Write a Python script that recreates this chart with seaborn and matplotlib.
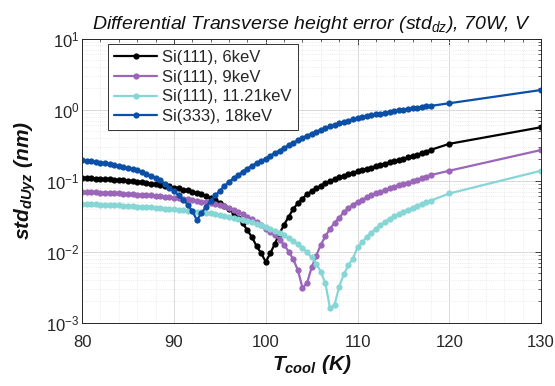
import numpy as np
import pandas as pd
import seaborn as sns
import matplotlib
matplotlib.use("Agg")
import matplotlib.pyplot as plt
from matplotlib.ticker import MultipleLocator, LogLocator, NullFormatter

# ---------------- data ----------------
T = list(np.arange(80.0, 118.01, 0.5)) + [120.0, 130.0]

series_names = ["Si(111), 6keV", "Si(111), 9keV", "Si(111), 11.21keV", "Si(333), 18keV"]

si111_6kev = [
    0.110, 0.109, 0.108, 0.107, 0.106, 0.105, 0.104, 0.103, 0.102, 0.101,
    0.100, 0.098, 0.097, 0.095, 0.093, 0.091, 0.089, 0.087, 0.085, 0.083,
    0.080, 0.078, 0.075, 0.073, 0.070, 0.067, 0.064, 0.060, 0.057, 0.053,
    0.049, 0.044, 0.040, 0.035, 0.030, 0.025, 0.020, 0.016, 0.012, 0.0095,
    0.0072, 0.0095, 0.013, 0.018, 0.024, 0.031, 0.040, 0.048, 0.056, 0.064,
    0.071, 0.078, 0.085, 0.092, 0.099, 0.105, 0.111, 0.117, 0.123, 0.129,
    0.135, 0.141, 0.147, 0.153, 0.160, 0.167, 0.174, 0.181, 0.188, 0.196,
    0.204, 0.212, 0.222, 0.232, 0.243, 0.256, 0.272,
    0.33, 0.565,
]

si111_9kev = [
    0.069, 0.0688, 0.0685, 0.0683, 0.068, 0.0675, 0.067, 0.0665, 0.066, 0.0655,
    0.065, 0.0644, 0.0638, 0.0632, 0.0625, 0.0618, 0.061, 0.0603, 0.0595, 0.0585,
    0.0575, 0.0565, 0.0555, 0.0544, 0.0532, 0.052, 0.0508, 0.0497, 0.0485, 0.047,
    0.0455, 0.0435, 0.041, 0.0385, 0.036, 0.0335, 0.031, 0.0285, 0.026, 0.0235,
    0.021, 0.019, 0.017, 0.0148, 0.0125, 0.010, 0.0078, 0.0055, 0.0031, 0.0036,
    0.0060, 0.0088, 0.0125, 0.0165, 0.021, 0.0255, 0.030, 0.036, 0.041, 0.046,
    0.050, 0.054, 0.058, 0.062, 0.066, 0.070, 0.074, 0.078, 0.082, 0.086,
    0.090, 0.094, 0.098, 0.103, 0.108, 0.114, 0.120,
    0.138, 0.27,
]

si111_11kev = [
    0.047, 0.0468, 0.0465, 0.0463, 0.046, 0.0457, 0.0454, 0.0451, 0.0448, 0.0444,
    0.044, 0.0436, 0.0432, 0.0428, 0.0424, 0.042, 0.0415, 0.041, 0.0405, 0.040,
    0.0395, 0.039, 0.0384, 0.0378, 0.0372, 0.0366, 0.0359, 0.0352, 0.0345, 0.0337,
    0.0329, 0.032, 0.0311, 0.0301, 0.0291, 0.028, 0.0269, 0.0258, 0.0246, 0.0234,
    0.0222, 0.0209, 0.0196, 0.0183, 0.0169, 0.0155, 0.0141, 0.0127, 0.0113, 0.0098,
    0.0083, 0.0068, 0.0052, 0.0036, 0.0016, 0.0018, 0.0032, 0.0048, 0.0064, 0.0080,
    0.0115, 0.0135, 0.016, 0.0185, 0.021, 0.0238, 0.0265, 0.029, 0.0315, 0.034,
    0.0365, 0.039, 0.0415, 0.0442, 0.047, 0.0498, 0.0525,
    0.066, 0.138,
]

si333_18kev = [
    0.195, 0.192, 0.188, 0.184, 0.180, 0.175, 0.170, 0.165, 0.160, 0.155,
    0.150, 0.145, 0.140, 0.133, 0.125, 0.117, 0.109, 0.101, 0.091, 0.080,
    0.071, 0.062, 0.054, 0.046, 0.037, 0.028, 0.035, 0.043, 0.052, 0.062,
    0.072, 0.084, 0.096, 0.108, 0.120, 0.134, 0.148, 0.162, 0.176, 0.190,
    0.205, 0.225, 0.245, 0.265, 0.29, 0.315, 0.34, 0.37, 0.40, 0.43,
    0.46, 0.49, 0.52, 0.55, 0.58, 0.61, 0.64, 0.67, 0.70, 0.73,
    0.755, 0.78, 0.805, 0.83, 0.855, 0.88, 0.905, 0.93, 0.955, 0.98,
    1.00, 1.03, 1.05, 1.07, 1.09, 1.11, 1.13,
    1.23, 1.89,
]

colors = ["#000000", "#9b66b9", "#86d6d6", "#0b4fa6"]

# --------------- figure ---------------
sns.set_style("white")
plt.rcParams["font.family"] = ["Liberation Sans", "DejaVu Sans"]
plt.rcParams["mathtext.fontset"] = "custom"
plt.rcParams["mathtext.rm"] = "Liberation Sans:italic"
plt.rcParams["mathtext.it"] = "Liberation Sans:italic:bold"
plt.rcParams["mathtext.bf"] = "Liberation Sans:bold"

frames = []
for name, vals in zip(series_names, [si111_6kev, si111_9kev, si111_11kev, si333_18kev]):
    frames.append(pd.DataFrame({"T": T, "v": vals, "series": name}))
df = pd.concat(frames, ignore_index=True)

fig = plt.figure(figsize=(5.55, 3.86), dpi=100)
ax = fig.add_axes([0.148, 0.164, 0.827, 0.736])

sns.lineplot(data=df, x="T", y="v", hue="series", hue_order=series_names,
             palette=colors, marker="o", markersize=4.5, markeredgewidth=0,
             linewidth=1.6, ax=ax, legend=True, errorbar=None, sort=True)

ax.set_yscale("log")
ax.set_xlim(80, 130)
ax.set_ylim(1e-3, 1e1)
ax.xaxis.set_major_locator(MultipleLocator(10))
ax.xaxis.set_minor_locator(MultipleLocator(2))
ax.yaxis.set_major_locator(LogLocator(base=10, numticks=10))
ax.yaxis.set_minor_locator(LogLocator(base=10, subs=np.arange(2, 10), numticks=20))
ax.yaxis.set_minor_formatter(NullFormatter())

ax.grid(which="major", color="#d9d9d9", linewidth=0.7, linestyle="-")
ax.grid(which="minor", color="#e3e3e3", linewidth=0.6, linestyle=":")
ax.set_axisbelow(True)

ax.tick_params(which="both", direction="in", top=True, right=True,
               colors="#262626", labelcolor="#262626")
ax.tick_params(which="major", length=4, width=0.6, labelsize=12)
ax.tick_params(which="minor", length=2, width=0.5)
ax.tick_params(axis="x", which="major", pad=9)
ax.tick_params(axis="y", which="major", pad=2)
for s in ax.spines.values():
    s.set_color("#262626")
    s.set_linewidth(0.7)

ax.set_title(r"Differential Transverse height error (std$\mathrm{_{dz}}$), 70W, V",
             fontsize=14, style="italic", color="#111111", pad=7)
ax.set_xlabel(r"$T_{cool}$ (K)", fontsize=15, fontweight="bold", style="italic",
              color="#111111", labelpad=2)
ax.set_ylabel(r"$std_{dUyz}$ (nm)", fontsize=15, fontweight="bold", style="italic",
              color="#111111", labelpad=6)

handles, labels = ax.get_legend_handles_labels()
leg = ax.legend(handles, labels, loc="upper left", bbox_to_anchor=(0.057, 0.98),
                frameon=True, fancybox=False, edgecolor="#333333", framealpha=1,
                prop={"family": "Liberation Sans", "size": 12},
                handlelength=2.6, handletextpad=0.3,
                borderpad=0.35, labelspacing=0.28, borderaxespad=0)
leg.get_frame().set_linewidth(0.7)

fig.savefig("out.png", dpi=100)
